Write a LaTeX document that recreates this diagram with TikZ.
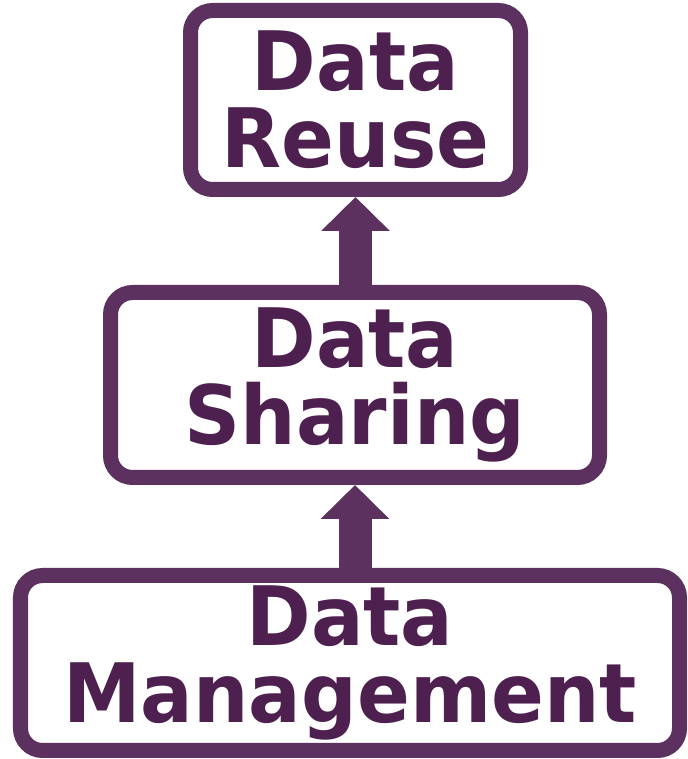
\documentclass[tikz,border=0pt]{standalone}
\usepackage{fontspec}
\setmainfont{DejaVu Sans}[FakeStretch=0.95]
\usetikzlibrary{arrows.meta}
\definecolor{framepurple}{RGB}{92,49,95}
\definecolor{textpurple}{RGB}{78,32,80}

\begin{document}
\begin{tikzpicture}[
    stage/.style={draw=framepurple, line width=0.45cm, rounded corners=0.66cm,
      inner sep=0pt, align=center, text=textpurple,
      font=\fontsize{70}{66}\selectfont\bfseries},
    uparrow/.style={draw=framepurple, line width=0.99cm,
      -{Triangle[width=2cm,length=1.02cm]}}
  ]
  \useasboundingbox (0,0) rectangle (20.64,22.77);
  % Boxes
  \node[stage, minimum width=9.9cm, minimum height=5.37cm] (reuse) at (10.665,19.77) {Data\\Reuse};
  \node[stage, minimum width=14.67cm, minimum height=5.55cm] (sharing) at (10.65,11.22) {Data\\Sharing};
  \node[stage, minimum width=19.77cm, minimum height=5.25cm] (management) at (10.5,2.88) {Data\\Management};
  % Arrows
  \draw[uparrow] (sharing.north -| reuse.south) -- (reuse.south);
  \draw[uparrow] (management.north -| sharing.south) -- (sharing.south);
\end{tikzpicture}
\end{document}
